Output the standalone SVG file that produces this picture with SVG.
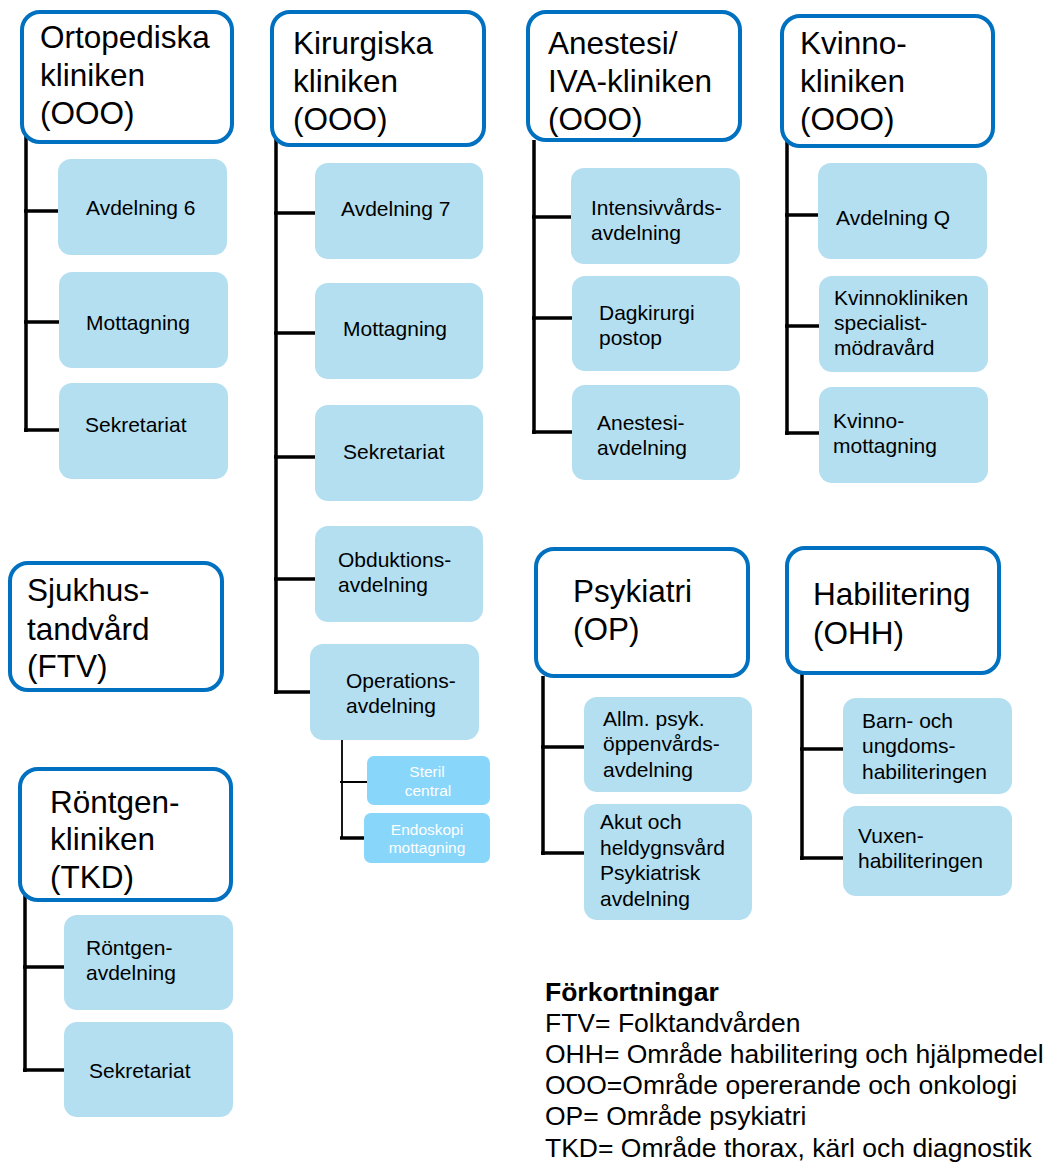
<svg xmlns="http://www.w3.org/2000/svg" width="1048" height="1164" viewBox="0 0 1048 1164">
  <style>
    text { font-family: "Liberation Sans", Arial, sans-serif; fill: #000; }
    .head rect { fill: #fff; stroke: #0070c0; stroke-width: 4; }
    .head text { font-size: 31.5px; }
    .unit rect { fill: #b3dff1; }
    .unit text { font-size: 21px; }
    .sub rect { fill: #88d6fa; }
    .sub text { font-size: 15.5px; fill: #fff; text-anchor: middle; }
    #connectors path { fill: none; stroke: #000; stroke-width: 3.5; }
    #connectors path.thin { stroke-width: 1.8; }
    .legend text { font-size: 26.5px; }
  </style>

  <!-- connectors -->
  <g id="connectors">
    <path d="M26,133 V432 M24,211 H59 M24,322 H59 M24,430 H59"/>
    <path d="M276,137 V694 M274,213 H315 M274,333 H315 M274,457 H315 M274,579 H315 M274,692 H310"/>
    <path class="thin" d="M342,740 V838 M340,782 H367"/>
    <path d="M340,838 H364"/>
    <path d="M534,140 V434 M532,217 H571 M532,318 H572 M532,432 H572"/>
    <path d="M787,137 V435 M785,215 H818 M785,326 H819 M785,433 H819"/>
    <path d="M25,895 V1072 M23,967 H64 M23,1070 H64"/>
    <path d="M543,676 V855 M541,747 H584 M541,853 H584"/>
    <path d="M802,673 V860 M800,749 H843 M800,858 H843"/>
  </g>

  <!-- Ortopediska kliniken -->
  <g id="ortopediska" class="head">
    <rect x="22" y="12" width="210" height="130" rx="18"/>
    <text x="40" y="48">Ortopediska</text>
    <text x="40" y="86">kliniken</text>
    <text x="40" y="124">(OOO)</text>
  </g>
  <g id="ort-avd6" class="unit">
    <rect x="58" y="159" width="169" height="96" rx="13"/>
    <text x="86" y="215">Avdelning 6</text>
  </g>
  <g id="ort-mott" class="unit">
    <rect x="59" y="272" width="169" height="96" rx="13"/>
    <text x="86" y="330">Mottagning</text>
  </g>
  <g id="ort-sekr" class="unit">
    <rect x="59" y="383" width="169" height="96" rx="13"/>
    <text x="85" y="432">Sekretariat</text>
  </g>

  <!-- Kirurgiska kliniken -->
  <g id="kirurgiska" class="head">
    <rect x="272" y="12" width="212" height="133" rx="18"/>
    <text x="293" y="54">Kirurgiska</text>
    <text x="293" y="92">kliniken</text>
    <text x="293" y="130">(OOO)</text>
  </g>
  <g id="kir-avd7" class="unit">
    <rect x="315" y="163" width="168" height="96" rx="13"/>
    <text x="341" y="216">Avdelning 7</text>
  </g>
  <g id="kir-mott" class="unit">
    <rect x="315" y="283" width="168" height="96" rx="13"/>
    <text x="343" y="336">Mottagning</text>
  </g>
  <g id="kir-sekr" class="unit">
    <rect x="315" y="405" width="168" height="96" rx="13"/>
    <text x="343" y="459">Sekretariat</text>
  </g>
  <g id="kir-obd" class="unit">
    <rect x="315" y="526" width="168" height="96" rx="13"/>
    <text x="338" y="567">Obduktions-</text>
    <text x="338" y="592">avdelning</text>
  </g>
  <g id="kir-op" class="unit">
    <rect x="310" y="644" width="169" height="96" rx="13"/>
    <text x="346" y="688">Operations-</text>
    <text x="346" y="713">avdelning</text>
  </g>
  <g id="kir-steril" class="sub">
    <rect x="367" y="756" width="123" height="49" rx="7"/>
    <text x="427" y="777">Steril</text>
    <text x="428" y="796">central</text>
  </g>
  <g id="kir-endo" class="sub">
    <rect x="364" y="813" width="126" height="50" rx="7"/>
    <text x="427" y="835">Endoskopi</text>
    <text x="427" y="853">mottagning</text>
  </g>

  <!-- Anestesi/IVA-kliniken -->
  <g id="anestesi" class="head">
    <rect x="528" y="12" width="212" height="128" rx="18"/>
    <text x="548" y="54">Anestesi/</text>
    <text x="548" y="92">IVA-kliniken</text>
    <text x="548" y="130">(OOO)</text>
  </g>
  <g id="ane-iva" class="unit">
    <rect x="571" y="168" width="169" height="96" rx="13"/>
    <text x="591" y="215">Intensivvårds-</text>
    <text x="591" y="240">avdelning</text>
  </g>
  <g id="ane-dag" class="unit">
    <rect x="572" y="276" width="168" height="95" rx="13"/>
    <text x="599" y="320">Dagkirurgi</text>
    <text x="599" y="345">postop</text>
  </g>
  <g id="ane-avd" class="unit">
    <rect x="572" y="385" width="168" height="95" rx="13"/>
    <text x="597" y="430">Anestesi-</text>
    <text x="597" y="455">avdelning</text>
  </g>

  <!-- Kvinnokliniken -->
  <g id="kvinno" class="head">
    <rect x="782" y="16" width="211" height="130" rx="18"/>
    <text x="800" y="54">Kvinno-</text>
    <text x="800" y="92">kliniken</text>
    <text x="800" y="130">(OOO)</text>
  </g>
  <g id="kv-avdq" class="unit">
    <rect x="818" y="163" width="169" height="96" rx="13"/>
    <text x="836" y="225">Avdelning Q</text>
  </g>
  <g id="kv-spec" class="unit">
    <rect x="819" y="276" width="169" height="96" rx="13"/>
    <text x="834" y="305">Kvinnokliniken</text>
    <text x="834" y="330">specialist-</text>
    <text x="834" y="355">mödravård</text>
  </g>
  <g id="kv-mott" class="unit">
    <rect x="819" y="387" width="169" height="96" rx="13"/>
    <text x="833" y="428">Kvinno-</text>
    <text x="833" y="453">mottagning</text>
  </g>

  <!-- Sjukhustandvård -->
  <g id="sjukhustandvard" class="head">
    <rect x="10" y="563" width="212" height="127" rx="18"/>
    <text x="27" y="601">Sjukhus-</text>
    <text x="27" y="640">tandvård</text>
    <text x="27" y="677">(FTV)</text>
  </g>

  <!-- Röntgenkliniken -->
  <g id="rontgen" class="head">
    <rect x="20" y="769" width="211" height="131" rx="18"/>
    <text x="50" y="813">Röntgen-</text>
    <text x="50" y="850">kliniken</text>
    <text x="50" y="888">(TKD)</text>
  </g>
  <g id="ro-avd" class="unit">
    <rect x="64" y="915" width="169" height="95" rx="13"/>
    <text x="86" y="955">Röntgen-</text>
    <text x="86" y="980">avdelning</text>
  </g>
  <g id="ro-sekr" class="unit">
    <rect x="64" y="1022" width="169" height="95" rx="13"/>
    <text x="89" y="1078">Sekretariat</text>
  </g>

  <!-- Psykiatri -->
  <g id="psykiatri" class="head">
    <rect x="536" y="549" width="212" height="127" rx="18"/>
    <text x="573" y="602">Psykiatri</text>
    <text x="573" y="640">(OP)</text>
  </g>
  <g id="ps-oppen" class="unit">
    <rect x="584" y="697" width="168" height="95" rx="13"/>
    <text x="603" y="726">Allm. psyk.</text>
    <text x="603" y="751">öppenvårds-</text>
    <text x="603" y="777">avdelning</text>
  </g>
  <g id="ps-akut" class="unit">
    <rect x="584" y="804" width="168" height="116" rx="13"/>
    <text x="600" y="829">Akut och</text>
    <text x="600" y="855">heldygnsvård</text>
    <text x="600" y="880">Psykiatrisk</text>
    <text x="600" y="906">avdelning</text>
  </g>

  <!-- Habilitering -->
  <g id="habilitering" class="head">
    <rect x="787" y="548" width="212" height="125" rx="18"/>
    <text x="813" y="605">Habilitering</text>
    <text x="813" y="644">(OHH)</text>
  </g>
  <g id="hab-barn" class="unit">
    <rect x="843" y="698" width="169" height="96" rx="13"/>
    <text x="862" y="728">Barn- och</text>
    <text x="862" y="753">ungdoms-</text>
    <text x="862" y="779">habiliteringen</text>
  </g>
  <g id="hab-vuxen" class="unit">
    <rect x="843" y="806" width="169" height="90" rx="13"/>
    <text x="858" y="843">Vuxen-</text>
    <text x="858" y="868">habiliteringen</text>
  </g>

  <!-- Abbreviations -->
  <g id="legend" class="legend">
    <text x="545" y="1001" font-weight="bold">Förkortningar</text>
    <text x="545" y="1032">FTV= Folktandvården</text>
    <text x="545" y="1063">OHH= Område habilitering och hjälpmedel</text>
    <text x="545" y="1094">OOO=Område opererande och onkologi</text>
    <text x="545" y="1125">OP= Område psykiatri</text>
    <text x="545" y="1157">TKD= Område thorax, kärl och diagnostik</text>
  </g>
</svg>
